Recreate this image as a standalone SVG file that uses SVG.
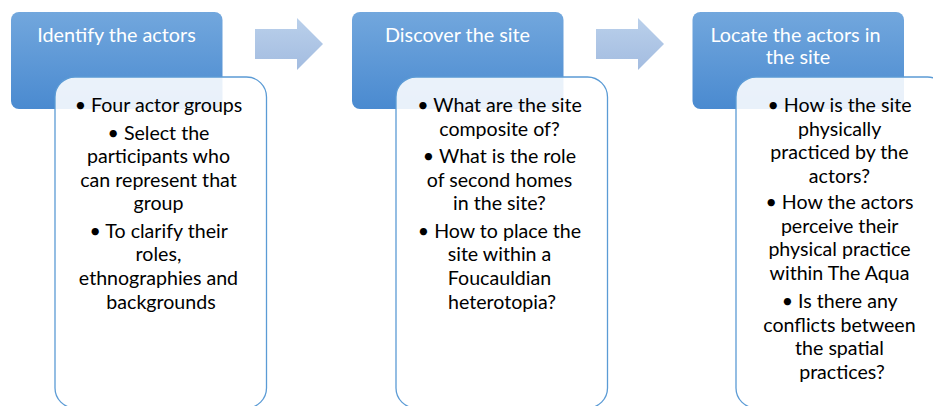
<svg xmlns="http://www.w3.org/2000/svg" width="933" height="406" viewBox="0 0 933 406">
  <defs>
    <linearGradient id="hdrGrad" x1="0" y1="0" x2="0" y2="1">
      <stop offset="0" stop-color="#72a7dd"/>
      <stop offset="1" stop-color="#4a8ad0"/>
    </linearGradient>
    <linearGradient id="arrowGrad" x1="0" y1="0" x2="0" y2="1">
      <stop offset="0" stop-color="#bad0eb"/>
      <stop offset="1" stop-color="#a3bce0"/>
    </linearGradient>
    <style>
      .hdr { fill: url(#hdrGrad); }
      .card { fill: #ffffff; fill-opacity: 0.88; stroke: #5b9bd5; stroke-width: 1.3; }
      .arrow { fill: url(#arrowGrad); }
      .htxt { font-family: Lato, "Open Sans", sans-serif; font-size: 19.8px; fill: #ffffff; text-anchor: middle; }
      .btxt { font-family: Lato, "Open Sans", sans-serif; font-size: 19.6px; fill: #000000; text-anchor: middle; }
    </style>
  </defs>

  <rect width="933" height="406" fill="#ffffff"/>

  <!-- connectors between the steps -->
  <g id="connectors">
    <path class="arrow" d="M255,29 H297 V18 L323,44 L297,70 V59 H255 Z"/>
    <path class="arrow" d="M596,29 H638 V18 L664,44 L638,70 V59 H596 Z"/>
  </g>

  <!-- step 1 -->
  <g id="step1">
    <rect class="hdr" x="11" y="12" width="211.5" height="97" rx="8"/>
    <text class="htxt" x="116.5" y="42">Identify the actors</text>
    <rect class="card" x="55" y="77" width="211.5" height="331" rx="20"/>
    <text class="btxt">
      <tspan x="161" y="112">• Four actor groups</tspan>
      <tspan x="161" y="139.5">• Select the</tspan>
      <tspan x="161" y="163">participants who</tspan>
      <tspan x="161" y="186.7">can represent that</tspan>
      <tspan x="161" y="210.3">group</tspan>
      <tspan x="161" y="237.8">• To clarify their</tspan>
      <tspan x="161" y="261.4">roles,</tspan>
      <tspan x="161" y="285">ethnographies and</tspan>
      <tspan x="161" y="308.6">backgrounds</tspan>
    </text>
  </g>

  <!-- step 2 -->
  <g id="step2">
    <rect class="hdr" x="352" y="12" width="211.5" height="97" rx="8"/>
    <text class="htxt" x="457.5" y="42">Discover the site</text>
    <rect class="card" x="396" y="77" width="211.5" height="331" rx="20"/>
    <text class="btxt">
      <tspan x="502" y="112">• What are the site</tspan>
      <tspan x="502" y="135.6">composite of?</tspan>
      <tspan x="502" y="163.1">• What is the role</tspan>
      <tspan x="502" y="186.7">of second homes</tspan>
      <tspan x="502" y="210.3">in the site?</tspan>
      <tspan x="502" y="237.8">• How to place the</tspan>
      <tspan x="502" y="261.4">site within a</tspan>
      <tspan x="502" y="285">Foucauldian</tspan>
      <tspan x="502" y="308.6">heterotopia?</tspan>
    </text>
  </g>

  <!-- step 3 -->
  <g id="step3">
    <rect class="hdr" x="692.5" y="12" width="211.5" height="97" rx="8"/>
    <text class="htxt">
      <tspan x="798" y="42">Locate the actors in</tspan>
      <tspan x="798" y="64">the site</tspan>
    </text>
    <rect class="card" x="736" y="77" width="211.5" height="331" rx="20"/>
    <text class="btxt">
      <tspan x="842" y="112">• How is the site</tspan>
      <tspan x="842" y="135.6">physically</tspan>
      <tspan x="842" y="159.2">practiced by the</tspan>
      <tspan x="842" y="182.8">actors?</tspan>
      <tspan x="842" y="209">• How the actors</tspan>
      <tspan x="842" y="232.6">perceive their</tspan>
      <tspan x="842" y="256.2">physical practice</tspan>
      <tspan x="842" y="279.8">within The Aqua</tspan>
      <tspan x="842" y="308">• Is there any</tspan>
      <tspan x="842" y="331.6">conflicts between</tspan>
      <tspan x="842" y="355.2">the spatial</tspan>
      <tspan x="842" y="378.8">practices?</tspan>
    </text>
  </g>
</svg>
